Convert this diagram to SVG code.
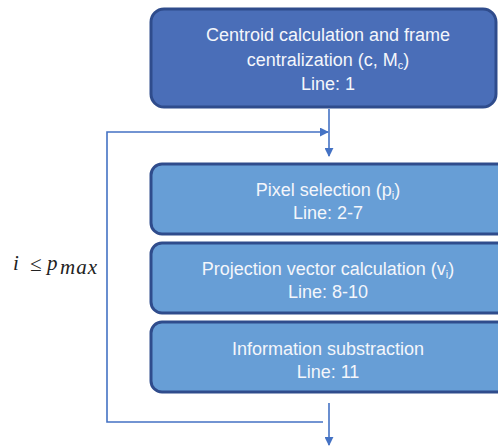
<svg xmlns="http://www.w3.org/2000/svg" width="498" height="447" viewBox="0 0 498 447">
  <style>
    .top { fill: #4A6EB8; stroke: #2F4C8C; stroke-width: 3; }
    .step { fill: #679ED6; stroke: #2F4C8C; stroke-width: 3; }
    .lbl { font-family: "Liberation Sans", Arial, sans-serif; font-size: 18px; fill: #F4F6FB; text-anchor: middle; }
    .sub { font-size: 11px; }
    .wire { fill: none; stroke: #4472C4; stroke-width: 1.6; }
    .math { font-family: "Liberation Serif", "Times New Roman", serif; font-style: italic; fill: #222; font-size: 21px; }
  </style>
  <defs>
    <marker id="tri" viewBox="0 0 10 10" refX="9" refY="5" markerWidth="9" markerHeight="9" markerUnits="userSpaceOnUse" orient="auto">
      <path d="M0,0 L10,5 L0,10 z" fill="#4472C4"/>
    </marker>
  </defs>

  <g id="centroid">
    <rect class="top" x="151" y="9" width="345" height="98" rx="13"/>
    <text class="lbl" x="328" y="41">Centroid calculation and frame</text>
    <text class="lbl" x="328" y="66">centralization (c, M<tspan class="sub" dy="3">c</tspan><tspan dy="-3">)</tspan></text>
    <text class="lbl" x="328" y="90">Line: 1</text>
  </g>

  <g id="pixel-selection">
    <rect class="step" x="151" y="164" width="360" height="70" rx="11"/>
    <text class="lbl" x="328" y="196">Pixel selection (p<tspan class="sub" dy="3">i</tspan><tspan dy="-3">)</tspan></text>
    <text class="lbl" x="328" y="219">Line: 2-7</text>
  </g>

  <g id="projection-vector">
    <rect class="step" x="151" y="243" width="360" height="70" rx="11"/>
    <text class="lbl" x="328" y="275">Projection vector calculation (v<tspan class="sub" dy="3">i</tspan><tspan dy="-3">)</tspan></text>
    <text class="lbl" x="328" y="298">Line: 8-10</text>
  </g>

  <g id="information-substraction">
    <rect class="step" x="151" y="322" width="360" height="70" rx="11"/>
    <text class="lbl" x="328" y="355">Information substraction</text>
    <text class="lbl" x="328" y="378">Line: 11</text>
  </g>

  <g id="connectors">
    <line class="wire" x1="329" y1="109" x2="329" y2="156" marker-end="url(#tri)"/>
    <polyline class="wire" points="323,422 107,422 107,132 328,132" marker-end="url(#tri)"/>
    <line class="wire" x1="329" y1="403" x2="329" y2="445" marker-end="url(#tri)"/>
  </g>

  <g id="loop-condition">
    <text class="math" x="13" y="270" font-size="20">i</text>
    <text class="math" x="30" y="271" font-size="23" font-style="normal">≤</text>
    <text class="math" x="47" y="270" font-size="20">p</text>
    <text class="math" x="60" y="274" font-size="13" letter-spacing="1">max</text>
  </g>
</svg>
